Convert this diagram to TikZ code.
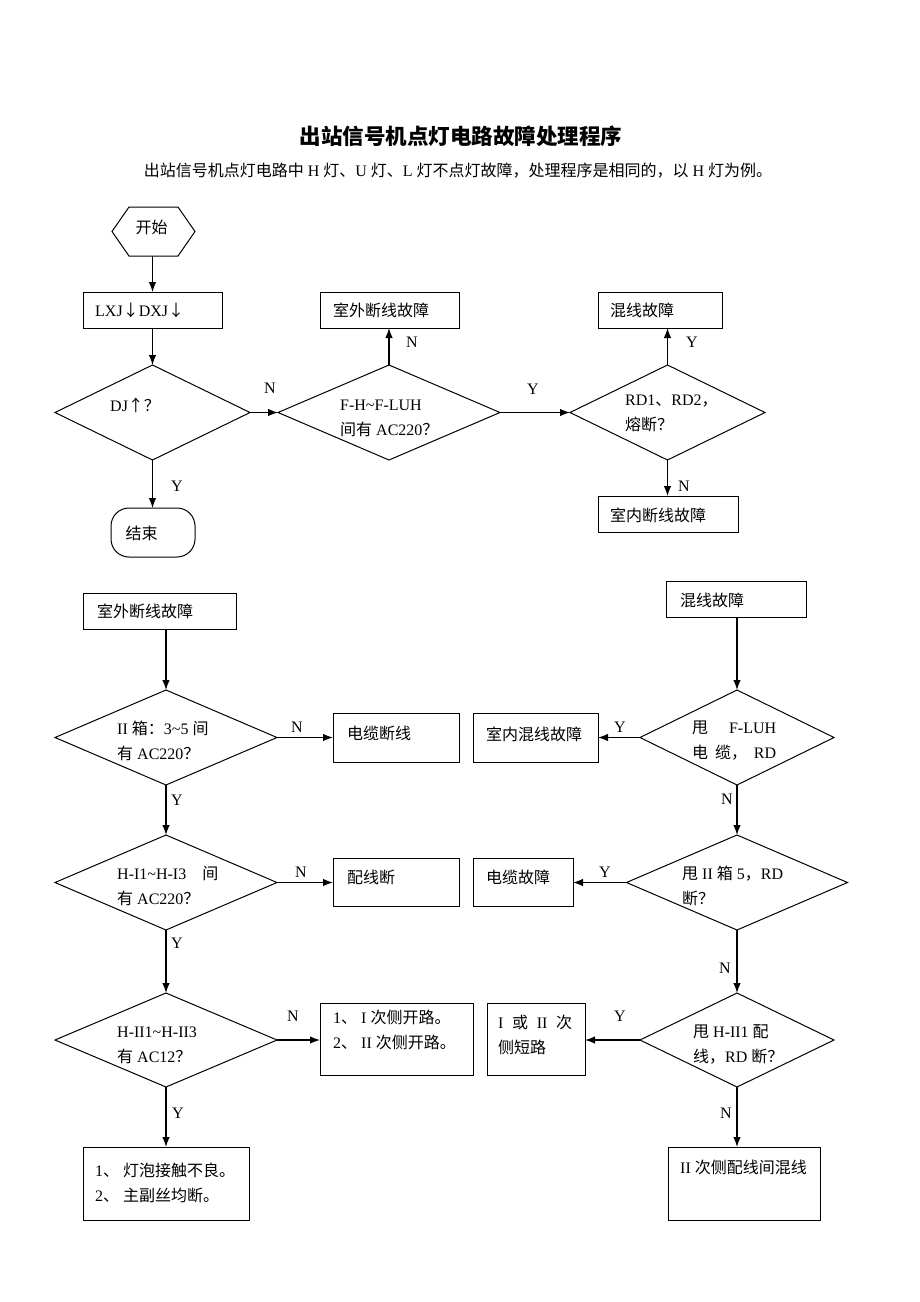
\documentclass[tikz,border=0pt]{standalone}
\usepackage{fontspec}
\setmainfont{Liberation Serif}
\newfontfamily\zhf{Noto Sans CJK SC}
\newcommand\zh[1]{{\zhf #1}}
\usetikzlibrary{shapes.geometric,arrows.meta}
\begin{document}
\begin{tikzpicture}[x=1pt,y=-1pt,
  box/.style={draw, line width=1pt, inner sep=0, outer sep=0},
  dia/.style={draw, diamond, line width=1pt, inner sep=0, outer sep=0},
  txt/.style={inner sep=0, anchor=west, align=left, font=\fontsize{16}{25}\selectfont},
  lab/.style={inner sep=0, font=\fontsize{16}{20}\selectfont},
  arr/.style={line width=1.3pt, -{Latex[length=10pt,width=7.5pt]}}]
\useasboundingbox (0,0) rectangle (920,1302);
\fill[white] (0,0) rectangle (920,1302);

% title
\node[inner sep=0, font=\fontsize{21.5}{24}\selectfont\bfseries\zhf] (title) at (461,136) {出站信号机点灯电路故障处理程序};
\node[inner sep=0, font=\fontsize{16}{20}\selectfont] (sub) at (458,171) {\zh{出站信号机点灯电路中} H \zh{灯、}U \zh{灯、}L \zh{灯不点灯故障，处理程序是相同的，以} H \zh{灯为例。}};

% ---------- top part ----------
\node[minimum width=83, minimum height=49, inner sep=0, outer sep=0] (start) at (153.5,231.5) {};
\draw[line width=1pt] (112,231.5) -- (129,207) -- (178,207) -- (195,231.5) -- (178,256) -- (129,256) -- cycle;
\node[lab, font=\fontsize{16}{20}\selectfont\zhf] (startt) at (151.5,227) {开始};

\node[box, minimum width=139, minimum height=36] (lxj) at (152.5,310) {};
\node[txt] (lxjt) at (95,310) {LXJ\zh{↓}DXJ\zh{↓}};

\node[dia, minimum width=195, minimum height=95] (dj) at (152.5,412.5) {};
\node[txt] (djt) at (110,405) {DJ\zh{↑？}};

\node[dia, minimum width=222, minimum height=95] (fh) at (389,412.5) {};
\node[txt] (fht) at (340,418) {F-H\textasciitilde F-LUH\\\zh{间有} AC220\zh{？}};

\node[box, minimum width=139, minimum height=36] (out1) at (389.5,310) {};
\node[txt, font=\fontsize{16}{25}\selectfont\zhf] (out1t) at (333,310) {室外断线故障};

\node[dia, minimum width=195, minimum height=95] (rd) at (667.5,412.5) {};
\node[txt] (rdt) at (625,413) {RD1\zh{、}RD2\zh{，}\\\zh{熔断？}};

\node[box, minimum width=124, minimum height=36] (hx1) at (660,310) {};
\node[txt, font=\fontsize{16}{25}\selectfont\zhf] (hx1t) at (610,310) {混线故障};

\node[box, minimum width=140, minimum height=36] (nd) at (668,514) {};
\node[txt, font=\fontsize{16}{25}\selectfont\zhf] (ndt) at (610,515) {室内断线故障};

\node[box, rounded corners=18pt, minimum width=84, minimum height=49] (end) at (153,532.5) {};
\node[lab, font=\fontsize{16}{20}\selectfont\zhf] (endt) at (141.5,533) {结束};

\draw[arr] (lxj.north |- start.south) -- (lxj.north);
\draw[arr] (lxj.south) -- (lxj.south |- dj.north);
\draw[arr] (dj.east) -- (fh.west);
\node[lab] (n1) at (270,388) {N};
\draw[arr] (fh.north) -- (fh.north |- out1.south);
\node[lab] (n2) at (412,342) {N};
\draw[arr] (fh.east) -- (rd.west);
\node[lab] (y1) at (533,389) {Y};
\draw[arr] (rd.north) -- (rd.north |- hx1.south);
\node[lab] (y2) at (692,342) {Y};
\draw[arr] (rd.south) -- (rd.south |- nd.north);
\node[lab] (n3) at (684,486) {N};
\draw[arr] (dj.south) -- (dj.south |- end.north);
\node[lab] (y3) at (177,486) {Y};

% ---------- bottom left ----------
\node[box, minimum width=153, minimum height=36] (out2) at (159.5,611) {};
\node[txt, font=\fontsize{16}{25}\selectfont\zhf] (out2t) at (97,611) {室外断线故障};

\node[dia, minimum width=222, minimum height=95] (d1) at (166,737.5) {};
\node[txt] (d1t) at (117,741) {II \zh{箱：}3\textasciitilde5 \zh{间}\\\zh{有} AC220\zh{？}};

\node[box, minimum width=126, minimum height=49] (cab) at (396,737.5) {};
\node[txt, font=\fontsize{16}{25}\selectfont\zhf] (cabt) at (347,733) {电缆断线};

\node[dia, minimum width=222, minimum height=95] (d2) at (166,882.5) {};
\node[txt] (d2t) at (117,886) {H-I1\textasciitilde H-I3\quad\zh{间}\\\zh{有} AC220\zh{？}};

\node[box, minimum width=126, minimum height=48] (pxd) at (396,882) {};
\node[txt, font=\fontsize{16}{25}\selectfont\zhf] (pxdt) at (347,877) {配线断};

\node[dia, minimum width=222, minimum height=94] (d3) at (166,1040) {};
\node[txt] (d3t) at (117,1045) {H-II1\textasciitilde H-II3\\\zh{有} AC12\zh{？}};

\node[box, minimum width=153, minimum height=72] (op) at (396.5,1039) {};
\node[txt] (opt) at (333,1030) {1\zh{、} I \zh{次侧开路。}\\2\zh{、} II \zh{次侧开路。}};

\node[box, minimum width=166, minimum height=73] (lamp) at (166,1183.5) {};
\node[txt] (lampt) at (95,1183) {1\zh{、}\ \zh{灯泡接触不良。}\\2\zh{、}\ \zh{主副丝均断。}};

\draw[arr] (d1.north |- out2.south) -- (d1.north);
\draw[arr] (d1.east) -- (d1.east -| cab.west);
\node[lab] (n4) at (297,727) {N};
\draw[arr] (d1.south) -- (d2.north);
\node[lab] (y4) at (177,800) {Y};
\draw[arr] (d2.east) -- (d2.east -| pxd.west);
\node[lab] (n5) at (301,872) {N};
\draw[arr] (d2.south) -- (d3.north);
\node[lab] (y5) at (177,943) {Y};
\draw[arr] (d3.east) -- (d3.east -| op.west);
\node[lab] (n6) at (293,1016) {N};
\draw[arr] (d3.south) -- (d3.south |- lamp.north);
\node[lab] (y6) at (178,1113) {Y};

% ---------- bottom right ----------
\node[box, minimum width=140, minimum height=36] (hx2) at (736,599) {};
\node[txt, font=\fontsize{16}{25}\selectfont\zhf] (hx2t) at (680,600) {混线故障};

\node[dia, minimum width=194, minimum height=95] (r1) at (737,737.5) {};
\node[txt] (r1t) at (692,741) {\parbox{84pt}{\zh{甩}\hfill F-LUH\\\zh{电}\hfill\zh{缆，}\hfill RD}};

\node[box, minimum width=125, minimum height=49] (snhx) at (535.5,737.5) {};
\node[txt, font=\fontsize{16}{25}\selectfont\zhf] (snhxt) at (486,734) {室内混线故障};

\node[dia, minimum width=221, minimum height=95] (r2) at (737,882.5) {};
\node[txt] (r2t) at (682,886) {\zh{甩} II \zh{箱} 5\zh{，}RD\\\zh{断？}};

\node[box, minimum width=100, minimum height=48] (dlgz) at (523,882) {};
\node[txt, font=\fontsize{16}{25}\selectfont\zhf] (dlgzt) at (486,877) {电缆故障};

\node[dia, minimum width=194, minimum height=94] (r3) at (737,1040) {};
\node[txt] (r3t) at (693,1044) {\zh{甩} H-II1 \zh{配}\\\zh{线，}RD \zh{断？}};

\node[box, minimum width=98, minimum height=72] (sc) at (536,1039) {};
\node[txt] (sct) at (498,1035) {\parbox{74pt}{I\hfill\zh{或}\hfill II\hfill\zh{次}\\\zh{侧短路}}};

\node[box, minimum width=152, minimum height=73] (mix) at (744,1183.5) {};
\node[txt] (mixt) at (680,1167) {II \zh{次侧配线间混线}};

\draw[arr] (r1.north |- hx2.south) -- (r1.north);
\draw[arr] (r1.west) -- (r1.west -| snhx.east);
\node[lab] (y7) at (620,727) {Y};
\draw[arr] (r1.south) -- (r2.north);
\node[lab] (n7) at (727,799) {N};
\draw[arr] (r2.west) -- (r2.west -| dlgz.east);
\node[lab] (y8) at (605,872) {Y};
\draw[arr] (r2.south) -- (r3.north);
\node[lab] (n8) at (725,968) {N};
\draw[arr] (r3.west) -- (r3.west -| sc.east);
\node[lab] (y9) at (620,1016) {Y};
\draw[arr] (r3.south) -- (r3.south |- mix.north);
\node[lab] (n9) at (726,1113) {N};
\end{tikzpicture}
\end{document}
